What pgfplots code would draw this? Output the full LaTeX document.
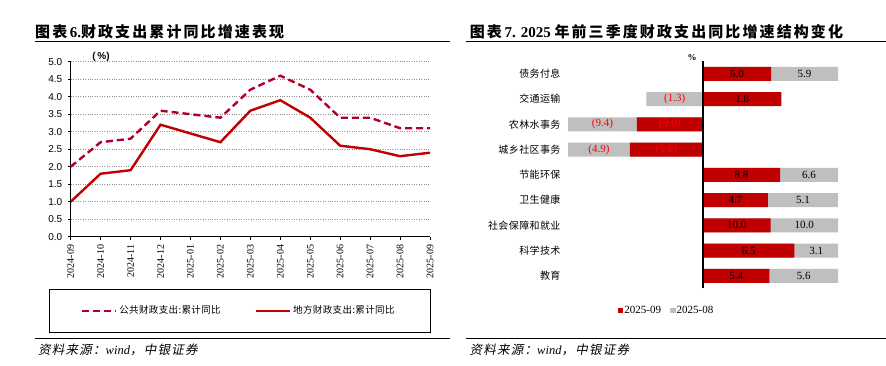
\documentclass[border=0pt]{standalone}
\usepackage{pgfplots}
\pgfplotsset{compat=1.18}
\usepackage{pgfplotstable}
\usepackage{fontspec}
\setmainfont{Liberation Serif}
\setsansfont{Liberation Sans}
\newfontfamily\cjk[LetterSpace=4]{Noto Sans CJK SC}
\newfontfamily\cjkt[LetterSpace=14]{Noto Sans CJK SC}
\newfontfamily\cjki[FakeSlant=0.2,LetterSpace=10]{Noto Sans CJK SC}

\definecolor{pubred}{HTML}{B0002A}
\definecolor{locred}{HTML}{C00000}
\definecolor{barred}{HTML}{C00000}
\definecolor{bargray}{HTML}{BFBFBF}
\definecolor{negred}{HTML}{FF0000}
\definecolor{gridgray}{HTML}{8C8C8C}
\newcommand\nv[1]{\textcolor{negred}{(#1)}}
\newcommand\Tot{(abs(\thisrow{a})+abs(\thisrow{b}))}

% left chart: cumulative y/y growth of fiscal spending (%)
\pgfplotstableread{
x pub loc
0 2.0 1.0
1 2.7 1.8
2 2.8 1.9
3 3.6 3.2
4 3.5 2.95
5 3.4 2.7
6 4.2 3.6
7 4.6 3.9
8 4.2 3.4
9 3.4 2.6
10 3.4 2.5
11 3.1 2.3
12 3.1 2.4
}\leftdata

% right chart: a = 2025-09, b = 2025-08 (%)
\pgfplotstableread{
y a b la lb
9 6.0 5.9 6.0 5.9
8 1.8 -1.3 1.8 \nv{1.3}
7 -9.0 -9.4 \nv{9.0} \nv{9.4}
6 -5.8 -4.9 \nv{5.8} \nv{4.9}
5 8.8 6.6 8.8 6.6
4 4.7 5.1 4.7 5.1
3 10.0 10.0 10.0 10.0
2 6.5 3.1 6.5 3.1
1 5.4 5.6 5.4 5.6
}\rightdata

\begin{document}
\begin{tikzpicture}
\path[use as bounding box] (0,0) rectangle (886pt,365pt);

% titles and rules
\node[anchor=west, inner sep=0pt] at (35pt,333.3pt) {\fontsize{15}{17}\selectfont\bfseries\cjkt 图表\,\rmfamily 6.\cjkt 财政支出累计同比增速表现};
\node[anchor=west, inner sep=0pt] at (469.7pt,333.3pt) {\fontsize{15}{17}\selectfont\bfseries\cjkt 图表\,\rmfamily 7. 2025 \cjkt 年前三季度财政支出同比增速结构变化};
\draw[line width=1.3pt] (35pt,323.3pt) -- (449.7pt,323.3pt);
\draw[line width=1.3pt] (466.3pt,323.3pt) -- (886pt,323.3pt);
\draw[line width=1.3pt] (35pt,26.7pt) -- (449.7pt,26.7pt);
\draw[line width=1.3pt] (466.3pt,26.7pt) -- (886pt,26.7pt);
\node[anchor=west, inner sep=0pt] at (38pt,15pt) {\fontsize{12.5}{14}\selectfont{\cjki 资料来源：}{\rmfamily\itshape wind}{\cjki ，中银证券}};
\node[anchor=west, inner sep=0pt] at (469.5pt,15pt) {\fontsize{12.5}{14}\selectfont{\cjki 资料来源：}{\rmfamily\itshape wind}{\cjki ，中银证券}};

% left legend frame
\draw[line width=0.9pt] (49pt,33pt) rectangle (430pt,76pt);
\node at (101pt,308pt) {\fontsize{10}{12}\selectfont\sffamily\bfseries(\,\%)};

\begin{axis}[
  at={(70.7pt,128.3pt)}, anchor=south west,
  scale only axis, width=359.3pt, height=175pt,
  xmin=0, xmax=12, ymin=0, ymax=5,
  axis lines*=left,
  axis line style={black, line width=0.8pt},
  xtick={0,1,2,3,4,5,6,7,8,9,10,11,12},
  xticklabels={2024-09,2024-10,2024-11,2024-12,2025-01,2025-02,2025-03,2025-04,2025-05,2025-06,2025-07,2025-08,2025-09},
  xticklabel style={yshift=-4pt, rotate=90, anchor=east, font=\fontsize{10}{12}\selectfont\rmfamily, inner sep=1pt},
  ytick={0,0.5,1,1.5,2,2.5,3,3.5,4,4.5,5},
  /pgf/number format/assume math mode=true,
  yticklabel style={font=\fontsize{10}{12}\selectfont\sffamily, /pgf/number format/fixed, /pgf/number format/fixed zerofill, /pgf/number format/precision=1, xshift=-2pt},
  tick align=outside, major tick length=3pt, tick style={black, line width=0.6pt},
  ymajorgrids, grid style={gridgray, dotted, line width=1pt},
  legend style={at={(0.0278,-0.4229)}, anchor=west, draw=none, fill=none, inner sep=0pt,
    font=\fontsize{9.5}{11}\selectfont\cjk, /tikz/every even column/.append style={column sep=32pt}},
  legend columns=2,
  legend image code/.code={\draw[#1] (0pt,0pt) -- (34pt,0pt);},
]
\addplot[pubred, line width=2.4pt, dash pattern=on 7pt off 4pt] table[x=x, y=pub]{\leftdata};
\addlegendentry{公共财政支出:累计同比}
\addplot[locred, line width=2.4pt] table[x=x, y=loc]{\leftdata};
\addlegendentry{地方财政支出:累计同比}
\end{axis}

\node at (692pt,307pt) {\fontsize{9}{10}\selectfont\rmfamily\bfseries\%};

\begin{axis}[
  at={(568pt,76.6pt)}, anchor=south west,
  scale only axis, width=270pt, height=227.25pt,
  xmin=-100, xmax=100, ymin=0.5, ymax=9.5,
  hide x axis,
  axis y line*=left, y axis line style={draw=none},
  ytick={1,2,3,4,5,6,7,8,9},
  yticklabels={教育,科学技术,社会保障和就业,卫生健康,节能环保,城乡社区事务,农林水事务,交通运输,债务付息},
  ytick style={draw=none}, major tick length=0pt,
  yticklabel style={font=\fontsize{10}{12}\selectfont\cjk, xshift=-4pt},
  legend style={at={(0.363,-0.0981)}, anchor=center, draw=none, fill=none,
    font=\fontsize{11}{13}\selectfont\rmfamily, /tikz/every even column/.append style={column sep=8pt},
    nodes={inner sep=1pt}},
  legend columns=2, reverse legend,
  legend image code/.code={\fill[#1] (0pt,-2.8pt) rectangle (5.6pt,2.8pt);},
]
\addplot[xbar, bar width=14pt, bar shift=0pt, fill=bargray, draw=none]
  table[y=y, x expr={(\thisrow{a}*\thisrow{b}>0) ? ((\thisrow{a}+\thisrow{b})/\Tot*100) : (\thisrow{b}/\Tot*100)}]{\rightdata};
\addlegendentry{2025-08}
\addplot[xbar, bar width=14pt, bar shift=0pt, fill=barred, draw=none]
  table[y=y, x expr={\thisrow{a}/\Tot*100}]{\rightdata};
\addlegendentry{2025-09}
\addplot[only marks, mark=none, forget plot, nodes near coords, point meta=explicit symbolic,
  every node near coord/.append style={anchor=center, font=\fontsize{11}{13}\selectfont\rmfamily, inner sep=0pt}]
  table[y=y, x expr={\thisrow{a}/\Tot*50}, meta=la]{\rightdata};
\addplot[only marks, mark=none, forget plot, nodes near coords, point meta=explicit symbolic,
  every node near coord/.append style={anchor=center, font=\fontsize{11}{13}\selectfont\rmfamily, inner sep=0pt}]
  table[y=y, x expr={((\thisrow{a}*\thisrow{b}>0) ? (\thisrow{a}/\Tot*100) : 0) + \thisrow{b}/\Tot*50}, meta=lb]{\rightdata};
\draw[black, line width=1.2pt] (axis cs:0,0.5) -- (axis cs:0,9.5);
\end{axis}
\end{tikzpicture}
\end{document}
